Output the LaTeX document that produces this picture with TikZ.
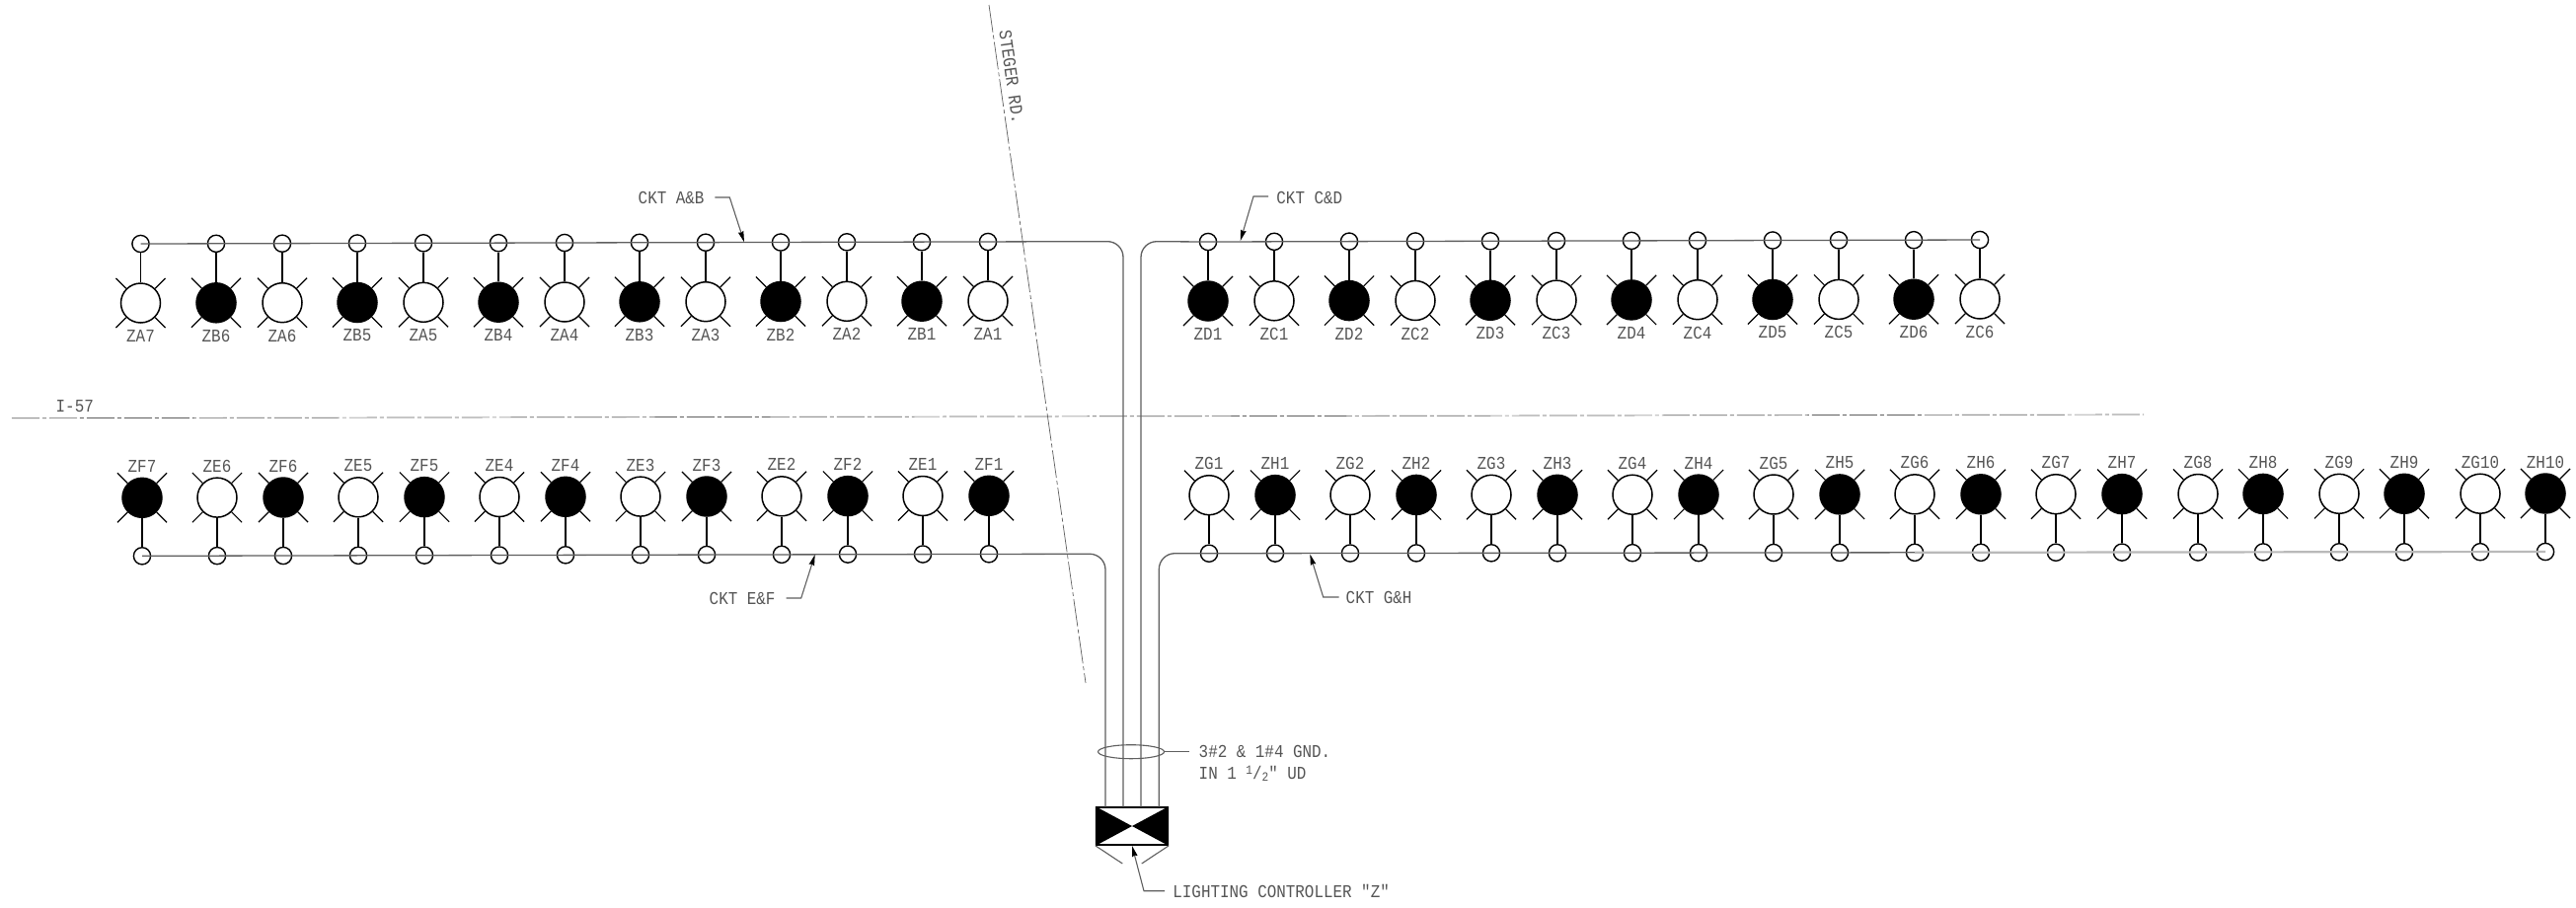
\documentclass[tikz,border=0pt]{standalone}
\usepackage{fontspec}
\usetikzlibrary{arrows.meta,shapes.geometric}
\newfontfamily\cadfont[FakeStretch=0.87]{Liberation Mono}

\definecolor{ccwire}{RGB}{95,95,95}
\definecolor{ccfaint}{RGB}{185,185,185}
\definecolor{cctext}{RGB}{85,85,85}

\tikzset{
  lampoff/.style={circle, draw, line width=0.15mm, minimum size=4mm, inner sep=0pt},
  lampon/.style={lampoff, fill=black},
  tap/.style={circle, draw, line width=0.14mm, minimum size=1.72mm, inner sep=0pt},
  tag/.style={inner sep=0pt, text=cctext, font=\cadfont\fontsize{5.2}{6}\selectfont},
  note/.style={tag, anchor=west},
  ray/.style={line width=0.12mm},
  stem/.style={line width=0.14mm},
  wire/.style={line width=0.13mm, ccwire, rounded corners=1.6mm},
  leader/.style={line width=0.11mm, ccwire},
  pointer/.style={leader, -{Stealth[length=1.1mm, width=0.55mm, inset=0.1mm, black]}},
  road/.style={line width=0.07mm, ccwire, dash pattern=on 2.8mm off 0.3mm on 0.4mm off 0.3mm}
}

% lamp with its tap above / below : style, name, x, y
\newcommand{\lamprays}[1]{%
  \draw[ray] (#1.45) -- ++(10.4,-10.4);
  \draw[ray] (#1.135) -- ++(-10.4,-10.4);
  \draw[ray] (#1.225) -- ++(-10.4,10.4);
  \draw[ray] (#1.315) -- ++(10.4,10.4);
}
\newcommand{\toplamp}[4]{%
  \draw (#3,#4) node[#1] (#2) {};
  \draw (#3,#4-60) node[tap] (t#2) {};
  \draw (#3,#4+33.5) node[tag] (l#2) {#2};
  \draw[stem] (t#2) -- (#2);
  \lamprays{#2}
}
\newcommand{\botlamp}[4]{%
  \draw (#3,#4) node[#1] (#2) {};
  \draw (#3,#4+59) node[tap] (t#2) {};
  \draw (#3,#4-32) node[tag] (l#2) {#2};
  \draw[stem] (t#2) -- (#2);
  \lamprays{#2}
}

\begin{document}
\begin{tikzpicture}[x=0.1mm, y=-0.1mm]

  \path[fill=white, use as bounding box] (0,0) rectangle (2610,919);

  % Roads
  \draw[road] (12,423.7) -- (2172,420);
  \draw (56,411.7) node[note] (interstate) {I-57};
  \draw[road] (1002,5) -- (1100,692);
  \draw (1025,78) node[tag, rotate=-82] (steger) {STEGER RD.};

  % Upper row left
  \toplamp{lampoff}{ZA7}{142.5}{307}
  \toplamp{lampon}{ZB6}{219}{306.8}
  \toplamp{lampoff}{ZA6}{286}{306.7}
  \toplamp{lampon}{ZB5}{362}{306.5}
  \toplamp{lampoff}{ZA5}{429}{306.3}
  \toplamp{lampon}{ZB4}{505}{306.2}
  \toplamp{lampoff}{ZA4}{572}{306}
  \toplamp{lampon}{ZB3}{648}{305.8}
  \toplamp{lampoff}{ZA3}{715}{305.7}
  \toplamp{lampon}{ZB2}{791}{305.5}
  \toplamp{lampoff}{ZA2}{858}{305.3}
  \toplamp{lampon}{ZB1}{934}{305.2}
  \toplamp{lampoff}{ZA1}{1001}{305}

  % Upper row right
  \toplamp{lampon}{ZD1}{1224}{305}
  \toplamp{lampoff}{ZC1}{1291}{304.8}
  \toplamp{lampon}{ZD2}{1367}{304.6}
  \toplamp{lampoff}{ZC2}{1434}{304.5}
  \toplamp{lampon}{ZD3}{1510}{304.3}
  \toplamp{lampoff}{ZC3}{1577}{304.1}
  \toplamp{lampon}{ZD4}{1653}{303.9}
  \toplamp{lampoff}{ZC4}{1720}{303.7}
  \toplamp{lampon}{ZD5}{1796}{303.5}
  \toplamp{lampoff}{ZC5}{1863}{303.4}
  \toplamp{lampon}{ZD6}{1939}{303.2}
  \toplamp{lampoff}{ZC6}{2006}{303}

  % Lower row left
  \botlamp{lampon}{ZF7}{144}{504.3}
  \botlamp{lampoff}{ZE6}{220}{504.1}
  \botlamp{lampon}{ZF6}{287}{504}
  \botlamp{lampoff}{ZE5}{363}{503.8}
  \botlamp{lampon}{ZF5}{430}{503.6}
  \botlamp{lampoff}{ZE4}{506}{503.5}
  \botlamp{lampon}{ZF4}{573}{503.3}
  \botlamp{lampoff}{ZE3}{649}{503.1}
  \botlamp{lampon}{ZF3}{716}{503}
  \botlamp{lampoff}{ZE2}{792}{502.8}
  \botlamp{lampon}{ZF2}{859}{502.6}
  \botlamp{lampoff}{ZE1}{935}{502.5}
  \botlamp{lampon}{ZF1}{1002}{502.3}

  % Lower row right
  \botlamp{lampoff}{ZG1}{1225}{501.7}
  \botlamp{lampon}{ZH1}{1292}{501.6}
  \botlamp{lampoff}{ZG2}{1368}{501.5}
  \botlamp{lampon}{ZH2}{1435}{501.4}
  \botlamp{lampoff}{ZG3}{1511}{501.3}
  \botlamp{lampon}{ZH3}{1578}{501.3}
  \botlamp{lampoff}{ZG4}{1654}{501.2}
  \botlamp{lampon}{ZH4}{1721}{501.1}
  \botlamp{lampoff}{ZG5}{1797}{501}
  \botlamp{lampon}{ZH5}{1864}{500.9}
  \botlamp{lampoff}{ZG6}{1940}{500.8}
  \botlamp{lampon}{ZH6}{2007}{500.8}
  \botlamp{lampoff}{ZG7}{2083}{500.7}
  \botlamp{lampon}{ZH7}{2150}{500.6}
  \botlamp{lampoff}{ZG8}{2227}{500.5}
  \botlamp{lampon}{ZH8}{2293}{500.4}
  \botlamp{lampoff}{ZG9}{2370}{500.3}
  \botlamp{lampon}{ZH9}{2436}{500.3}
  \botlamp{lampoff}{ZG10}{2513}{500.2}
  \botlamp{lampon}{ZH10}{2579}{500}

  % Controller
  \draw (1147,837) node[draw, line width=0.15mm, minimum width=7.26mm, minimum height=3.83mm, inner sep=0pt] (ctrl) {};
  \fill (ctrl.north west) -- (ctrl.center) -- (ctrl.south west) -- cycle;
  \fill (ctrl.north east) -- (ctrl.center) -- (ctrl.south east) -- cycle;
  \coordinate (footL) at (1137.3,875);
  \coordinate (footR) at (1156.7,875);
  \draw[leader] (ctrl.south west) -- (footL);
  \draw[leader] (ctrl.south east) -- (footR);

  % Circuits
  \coordinate (endEF) at (1120,817.7);
  \coordinate (endAB) at (1138,817.7);
  \coordinate (endCD) at (1156,817.7);
  \coordinate (endGH) at (1174.3,817.7);
  \coordinate (bendAB) at (1138,244.6);
  \coordinate (bendCD) at (1156,244.6);
  \coordinate (bendEF) at (1120,561.2);
  \coordinate (bendGH) at (1174.3,560.7);
  \draw[wire] (tZA7.center) -- (bendAB) -- (endAB);
  \draw[wire] (tZC6.center) -- (tZD1.center) -- (bendCD) -- (endCD);
  \draw[wire] (tZF7.center) -- (bendEF) -- (endEF);
  \draw[wire] (tZG6.center) -- (tZG1.center) -- (bendGH) -- (endGH);
  \draw[wire, ccfaint, line width=0.22mm] (tZH10.center) -- (tZG6.center);

  % Conduit
  \draw (1146,761.7) node[draw, ellipse, minimum width=6.7mm, minimum height=1.4mm, inner sep=0pt, line width=0.11mm, ccwire] (conduit) {};
  \draw (1214,761.7) node[note] (cable) {3\#2 \& 1\#4 GND.};
  \draw (1214,784) node[note] (duct) {IN 1 \raisebox{0.5mm}{\scalebox{0.7}{1}}/\raisebox{-0.2mm}{\scalebox{0.7}{2}}" UD};
  \coordinate (cablefoot) at (1205,761.7);
  \draw[leader] (conduit) -- (cablefoot);

  % Labels
  \draw (646,200.7) node[note] (cktAB) {CKT A\&B};
  \coordinate (legAB) at (724.3,200);
  \coordinate (kneeAB) at (739.3,200);
  \coordinate (tipAB) at (754,245.3);
  \draw[pointer] (legAB) -- (kneeAB) -- (tipAB);

  \draw (1292.7,200) node[note] (cktCD) {CKT C\&D};
  \coordinate (legCD) at (1285,199);
  \coordinate (kneeCD) at (1270,199);
  \coordinate (tipCD) at (1256.7,244);
  \draw[pointer] (legCD) -- (kneeCD) -- (tipCD);

  \draw (718,606.7) node[note] (cktEF) {CKT E\&F};
  \coordinate (legEF) at (796.7,606);
  \coordinate (kneeEF) at (811.7,606);
  \coordinate (tipEF) at (825.7,562);
  \draw[pointer] (legEF) -- (kneeEF) -- (tipEF);

  \draw (1363,605) node[note] (cktGH) {CKT G\&H};
  \coordinate (legGH) at (1356.7,605);
  \coordinate (kneeGH) at (1340.7,605);
  \coordinate (tipGH) at (1327.3,561.5);
  \draw[pointer] (legGH) -- (kneeGH) -- (tipGH);

  \draw (1187.7,902.7) node[note] (ctrlname) {LIGHTING CONTROLLER "Z"};
  \coordinate (legctrl) at (1180,902.7);
  \coordinate (kneectrl) at (1159,902.7);
  \draw[pointer] (legctrl) -- (kneectrl) -- (ctrl.south);

\end{tikzpicture}
\end{document}
